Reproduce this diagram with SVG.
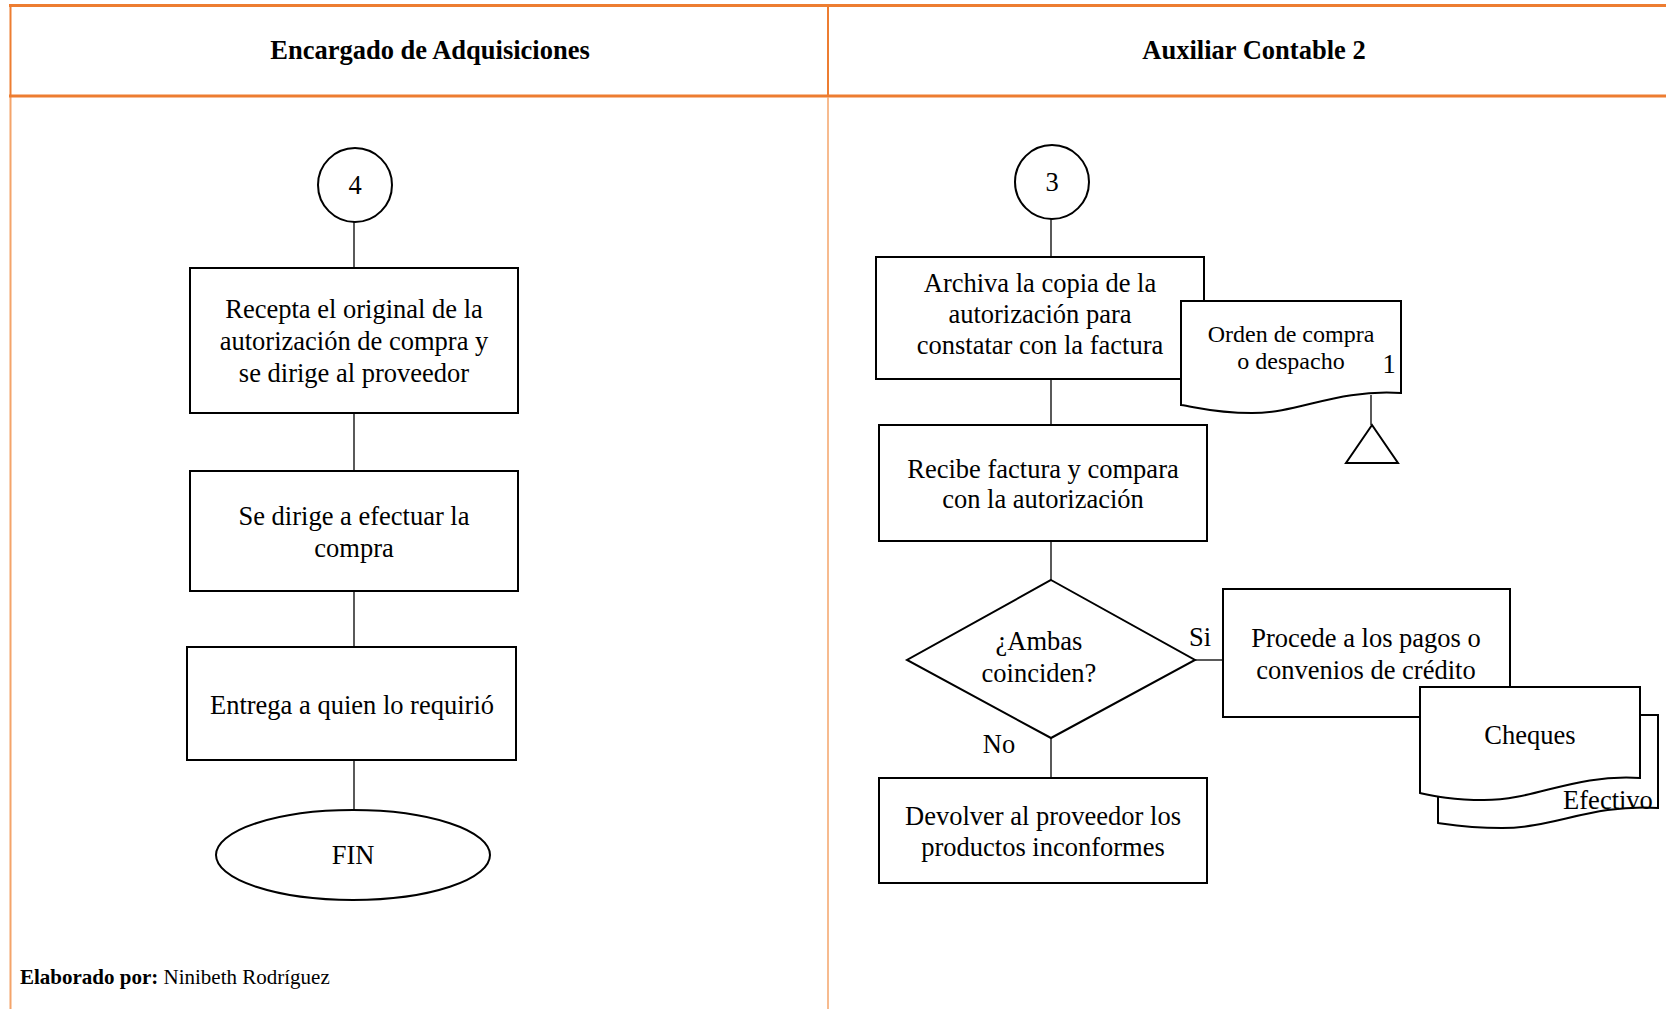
<svg xmlns="http://www.w3.org/2000/svg" width="1666" height="1009" viewBox="0 0 1666 1009">
  <defs>
    <style>
      .frame { stroke: #ED7D31; fill: none; }
      .frame-soft { stroke: #F4A46A; fill: none; }
      .box { fill: #FFFFFF; stroke: #000000; stroke-width: 2; }
      .link { stroke: #000000; stroke-width: 1.3; fill: none; }
      .t { font-family: "Liberation Serif", "Times New Roman", serif; font-size: 26.5px; fill: #000000; text-anchor: middle; }
      .t-sm { font-family: "Liberation Serif", "Times New Roman", serif; font-size: 24px; fill: #000000; text-anchor: middle; }
      .head { font-family: "Liberation Serif", "Times New Roman", serif; font-size: 26.5px; font-weight: bold; fill: #000000; text-anchor: middle; }
      .foot { font-family: "Liberation Serif", "Times New Roman", serif; font-size: 21px; fill: #000000; }
    </style>
  </defs>

  <rect x="0" y="0" width="1666" height="1009" fill="#FFFFFF"/>

  <!-- Swimlane table -->
  <g id="table">
    <line class="frame" x1="9" y1="5.5" x2="1666" y2="5.5" stroke-width="3"/>
    <line class="frame" x1="10.5" y1="4" x2="10.5" y2="97" stroke-width="2"/>
    <line class="frame-soft" x1="10.5" y1="97" x2="10.5" y2="1009" stroke-width="2"/>
    <line class="frame" x1="9" y1="96" x2="1666" y2="96" stroke-width="3"/>
    <line class="frame" x1="828" y1="4" x2="828" y2="97" stroke-width="2"/>
    <line class="frame-soft" x1="828" y1="97" x2="828" y2="1009" stroke-width="1.5"/>
    <text class="head" x="430" y="59">Encargado de Adquisiciones</text>
    <text class="head" x="1254" y="59">Auxiliar Contable 2</text>
  </g>

  <!-- Connectors -->
  <g id="connectors">
    <line class="link" x1="354" y1="222" x2="354" y2="268"/>
    <line class="link" x1="354" y1="413" x2="354" y2="471"/>
    <line class="link" x1="354" y1="591" x2="354" y2="647"/>
    <line class="link" x1="354" y1="760" x2="354" y2="829"/>
    <line class="link" x1="1051" y1="219" x2="1051" y2="257"/>
    <line class="link" x1="1051" y1="379" x2="1051" y2="425"/>
    <line class="link" x1="1051" y1="541" x2="1051" y2="580"/>
    <line class="link" x1="1051" y1="738" x2="1051" y2="778"/>
    <line class="link" x1="1195" y1="660" x2="1223" y2="660"/>
    <line class="link" x1="1371" y1="395" x2="1371" y2="425"/>
  </g>

  <!-- Left lane: Encargado de Adquisiciones -->
  <g id="conector-4">
    <circle class="box" cx="355" cy="185" r="37"/>
    <text class="t" x="355" y="194">4</text>
  </g>
  <g id="recepta">
    <rect class="box" x="190" y="268" width="328" height="145"/>
    <text class="t" x="354" y="318">Recepta el original de la</text>
    <text class="t" x="354" y="350">autorización de compra y</text>
    <text class="t" x="354" y="382">se dirige al proveedor</text>
  </g>
  <g id="efectuar-compra">
    <rect class="box" x="190" y="471" width="328" height="120"/>
    <text class="t" x="354" y="525">Se dirige a efectuar la</text>
    <text class="t" x="354" y="557">compra</text>
  </g>
  <g id="entrega">
    <rect class="box" x="187" y="647" width="329" height="113"/>
    <text class="t" x="352" y="714">Entrega a quien lo requirió</text>
  </g>
  <g id="fin">
    <ellipse class="box" cx="353" cy="855" rx="137" ry="45"/>
    <text class="t" x="353" y="864">FIN</text>
  </g>

  <!-- Right lane: Auxiliar Contable 2 -->
  <g id="conector-3">
    <circle class="box" cx="1052" cy="182" r="37"/>
    <text class="t" x="1052" y="191">3</text>
  </g>
  <g id="archiva">
    <rect class="box" x="876" y="257" width="328" height="122"/>
    <text class="t" x="1040" y="292">Archiva la copia de la</text>
    <text class="t" x="1040" y="323">autorización para</text>
    <text class="t" x="1040" y="354">constatar con la factura</text>
  </g>
  <g id="orden-compra">
    <path class="box" d="M1181,301 H1401 V393 C1335,389 1300,413 1252,413 C1215,413 1196,407 1181,405 Z"/>
    <text class="t-sm" x="1291" y="342">Orden de compra</text>
    <text class="t-sm" x="1291" y="369">o despacho</text>
    <text class="t" x="1389" y="373">1</text>
  </g>
  <g id="archivo">
    <polygon class="box" points="1372,425 1346,463 1398,463"/>
  </g>
  <g id="recibe-factura">
    <rect class="box" x="879" y="425" width="328" height="116"/>
    <text class="t" x="1043" y="478">Recibe factura y compara</text>
    <text class="t" x="1043" y="508">con la autorización</text>
  </g>
  <g id="coinciden">
    <polygon class="box" points="1051,580 1195,660 1051,738 907,660"/>
    <text class="t" x="1039" y="650">¿Ambas</text>
    <text class="t" x="1039" y="682">coinciden?</text>
    <text class="t" x="1200" y="646">Si</text>
    <text class="t" x="999" y="753">No</text>
  </g>
  <g id="procede-pagos">
    <rect class="box" x="1223" y="589" width="287" height="128"/>
    <text class="t" x="1366" y="647">Procede a los pagos o</text>
    <text class="t" x="1366" y="679">convenios de crédito</text>
  </g>
  <g id="cheques-efectivo">
    <path class="box" d="M1438,715 H1658 V808 C1590,804 1555,828 1502,828 C1470,828 1452,825 1438,823 Z"/>
    <path class="box" d="M1420,687 H1640 V778 C1572,774 1537,800 1484,800 C1452,800 1434,796 1420,793 Z"/>
    <text class="t" x="1530" y="744">Cheques</text>
    <text class="t" x="1608" y="809">Efectivo</text>
  </g>
  <g id="devolver">
    <rect class="box" x="879" y="778" width="328" height="105"/>
    <text class="t" x="1043" y="825">Devolver al proveedor los</text>
    <text class="t" x="1043" y="856">productos inconformes</text>
  </g>

  <!-- Footer -->
  <text class="foot" x="20" y="984"><tspan font-weight="bold">Elaborado por:</tspan> Ninibeth Rodríguez</text>
</svg>
